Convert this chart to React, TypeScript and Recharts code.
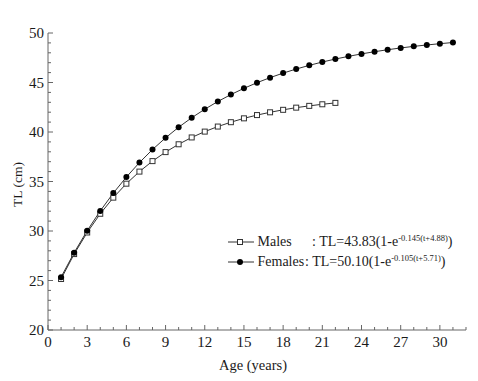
import { Legend, Line, LineChart, XAxis, YAxis } from "recharts";

// von Bertalanffy fitted total length at age
const MALE_AGES = [1, 2, 3, 4, 5, 6, 7, 8, 9, 10, 11, 12, 13, 14, 15, 16, 17, 18, 19, 20, 21, 22];
const MALE_TL = [
  25.15, 27.67, 29.85, 31.74, 33.37, 34.78, 36.0, 37.06, 37.97, 38.76, 39.45,
  40.04, 40.55, 40.99, 41.38, 41.71, 41.99, 42.24, 42.46, 42.64, 42.8, 42.94,
];
const FEMALE_AGES = [
  1, 2, 3, 4, 5, 6, 7, 8, 9, 10, 11, 12, 13, 14, 15, 16, 17, 18, 19, 20, 21, 22,
  23, 24, 25, 26, 27, 28, 29, 30, 31,
];
const FEMALE_TL = [
  25.34, 27.81, 30.03, 32.03, 33.83, 35.45, 36.91, 38.23, 39.41, 40.48, 41.44,
  42.3, 43.08, 43.78, 44.41, 44.98, 45.49, 45.95, 46.36, 46.73, 47.07, 47.37,
  47.64, 47.89, 48.11, 48.31, 48.49, 48.65, 48.79, 48.92, 49.04,
];

const X_TICKS = [
  0, 1, 2, 3, 4, 5, 6, 7, 8, 9, 10, 11, 12, 13, 14, 15, 16, 17, 18, 19, 20, 21,
  22, 23, 24, 25, 26, 27, 28, 29, 30, 31, 32,
];
const X_LABELS = [0, 3, 6, 9, 12, 15, 18, 21, 24, 27, 30];
const Y_TICKS = [
  20, 21, 22, 23, 24, 25, 26, 27, 28, 29, 30, 31, 32, 33, 34, 35, 36, 37, 38, 39,
  40, 41, 42, 43, 44, 45, 46, 47, 48, 49, 50,
];
const Y_LABELS = [20, 25, 30, 35, 40, 45, 50];

const SERIF = "'Times New Roman', Times, 'Liberation Serif', Tinos, 'DejaVu Serif', serif";
const AXIS = "#666";
const INK = "#1a1a1a";
const LINE = "#333";

const rows = FEMALE_AGES.map((age, i) => {
  const m = MALE_AGES.indexOf(age);
  return { age, females: FEMALE_TL[i], males: m >= 0 ? MALE_TL[m] : undefined };
});

function XTick(props: any) {
  const { x, y, payload } = props;
  const major = X_LABELS.includes(payload.value);
  return (
    <g>
      <line x1={x} x2={x} y1={y} y2={y - (major ? 5 : 3)} stroke={AXIS} />
      {major && (
        <text x={x} y={y + 16.5} textAnchor="middle" fill={INK} fontSize={15} style={{ fontFamily: SERIF }}>
          {payload.value}
        </text>
      )}
    </g>
  );
}

function YTick(props: any) {
  const { x, y, payload } = props;
  const major = Y_LABELS.includes(payload.value);
  return (
    <g>
      <line x1={x} x2={x + (major ? 5 : 3)} y1={y} y2={y} stroke={AXIS} />
      {major && (
        <text x={x - 4} y={y} dy="0.35em" textAnchor="end" fill={INK} fontSize={15} style={{ fontFamily: SERIF }}>
          {payload.value}
        </text>
      )}
    </g>
  );
}

function SquareDot(props: any) {
  const { cx, cy, index, value } = props;
  if (cx == null || cy == null || value == null) return <g key={`m-${index}`} />;
  return (
    <rect key={`m-${index}`} x={cx - 2.5} y={cy - 2.5} width={5} height={5} fill="#fff" stroke={LINE} strokeWidth={1} />
  );
}

function RoundDot(props: any) {
  const { cx, cy, index } = props;
  if (cx == null || cy == null) return <g key={`f-${index}`} />;
  return <circle key={`f-${index}`} cx={cx} cy={cy} r={3} fill="#000" />;
}

function LegendSymbol({ filled }: { filled: boolean }) {
  return (
    <svg width={26} height={10} style={{ display: "block", marginRight: 3.5 }}>
      <line x1={0} x2={26} y1={5} y2={5} stroke={LINE} />
      {filled ? (
        <circle cx={12} cy={5} r={3} fill="#000" />
      ) : (
        <rect x={9.5} y={2.5} width={5} height={5} fill="#fff" stroke={LINE} />
      )}
    </svg>
  );
}

const LEGEND_ROWS = [
  { name: "Males", filled: false, lead: "TL=43.83(1-e", exp: "-0.145(t+4.88)" },
  { name: "Females", filled: true, lead: "TL=50.10(1-e", exp: "-0.105(t+5.71)" },
];

function LegendBox() {
  return (
    <div style={{ fontFamily: SERIF, fontSize: 14, color: INK, whiteSpace: "nowrap" }}>
      {LEGEND_ROWS.map((r) => (
        <div key={r.name} style={{ display: "flex", alignItems: "center", height: 20 }}>
          <LegendSymbol filled={r.filled} />
          <span style={{ display: "inline-block", width: r.filled ? 47.5 : 54.5 }}>{r.name}</span>
          <span>
            : {r.lead}
            <sup style={{ fontSize: 8.5, verticalAlign: "5px", lineHeight: 0 }}>{r.exp}</sup>)
          </span>
        </div>
      ))}
    </div>
  );
}

export default function App() {
  return (
    <div style={{ position: "absolute", left: 0, top: 0, background: "#fff" }}>
      <LineChart width={478} height={381} data={rows} margin={{ top: 33, right: 12, bottom: 11, left: 8 }}>
        <XAxis
          dataKey="age"
          type="number"
          domain={[0, 32]}
          ticks={X_TICKS}
          interval={0}
          tickSize={0}
          tickMargin={0}
          height={40}
          axisLine={{ stroke: AXIS }}
          tickLine={false}
          tick={<XTick />}
          label={{
            content: ({ viewBox }: any) => (
              <text
                x={viewBox.x + viewBox.width / 2 - 4}
                y={viewBox.y + 39.5}
                textAnchor="middle"
                fill={INK}
                fontSize={14.5}
                style={{ fontFamily: SERIF }}
              >
                Age (years)
              </text>
            ),
          }}
        />
        <YAxis
          type="number"
          domain={[20, 50]}
          ticks={Y_TICKS}
          interval={0}
          tickSize={0}
          tickMargin={0}
          width={40}
          axisLine={{ stroke: AXIS }}
          tickLine={false}
          tick={<YTick />}
          label={{
            content: ({ viewBox }: any) => {
              const cx = viewBox.x + 9;
              const cy = viewBox.y + viewBox.height / 2 + 3;
              return (
                <text
                  x={cx}
                  y={cy}
                  dy="0.35em"
                  textAnchor="middle"
                  transform={`rotate(-90 ${cx} ${cy})`}
                  fill={INK}
                  fontSize={13.5}
                  style={{ fontFamily: SERIF }}
                >
                  TL (cm)
                </text>
              );
            },
          }}
        />
        <Legend
          layout="vertical"
          align="center"
          verticalAlign="middle"
          content={() => <LegendBox />}
          wrapperStyle={{ left: 228, top: 232, width: "auto", height: "auto" }}
        />
        <Line
          dataKey="males"
          name="Males"
          stroke={LINE}
          strokeWidth={1}
          dot={SquareDot}
          activeDot={false}
          connectNulls={false}
          isAnimationActive={false}
        />
        <Line
          dataKey="females"
          name="Females"
          stroke={LINE}
          strokeWidth={1}
          dot={RoundDot}
          activeDot={false}
          isAnimationActive={false}
        />
      </LineChart>
    </div>
  );
}
